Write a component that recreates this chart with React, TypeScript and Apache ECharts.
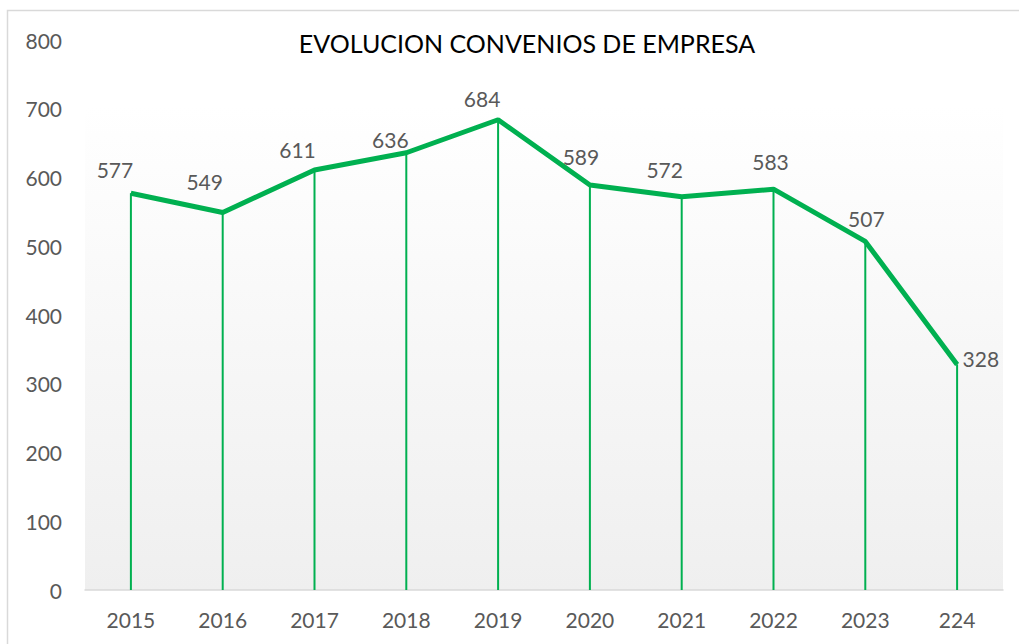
import React, { useEffect, useRef } from "react";
import * as echarts from "echarts";

const categories = ["2015", "2016", "2017", "2018", "2019", "2020", "2021", "2022", "2023", "224"];
const values = [577, 549, 611, 636, 684, 589, 572, 583, 507, 328];
const yTicks = { min: 0, max: 800, interval: 100 };
const title = "EVOLUCION CONVENIOS DE EMPRESA";

// manual nudges of the data labels (pixels), as placed in the original
const labelNudges: [number, number][] = [
  [-16, -13], [-18, -20], [-17, -9], [-16, -2], [-16, -10],
  [-9, -18], [-17, -16], [-3, -17], [1, -12], [0, -6],
];

const GREEN = "#00B050";
const FONT = "Lato, 'Open Sans', sans-serif";

export default function App() {
  const ref = useRef<HTMLDivElement>(null);
  useEffect(() => {
    document.body.style.margin = "0";
    const chart = echarts.init(ref.current!, null, { renderer: "svg" });
    const last = values.length - 1;
    chart.setOption({
      animation: false,
      backgroundColor: "#ffffff",
      title: {
        text: title,
        left: 522,
        textAlign: "center",
        top: 25,
        textStyle: { fontFamily: FONT, fontSize: 25, fontWeight: "normal", color: "#000000" },
      },
      graphic: [
        {
          type: "rect",
          shape: { x: 7.5, y: 10.5, width: 1040, height: 660 },
          style: { fill: "none", stroke: "#d9d9d9", lineWidth: 1.5 },
          silent: true,
          z: 100,
        },
      ],
      grid: {
        left: 85,
        right: 16,
        top: 40,
        bottom: 54,
        show: true,
        borderWidth: 0,
        backgroundColor: new echarts.graphic.LinearGradient(0, 0, 0, 1, [
          { offset: 0, color: "#ffffff" },
          { offset: 0.12, color: "#ffffff" },
          { offset: 1, color: "#efefef" },
        ]),
      },
      xAxis: {
        type: "category",
        data: categories,
        boundaryGap: true,
        axisLine: { show: true, lineStyle: { color: "#d9d9d9", width: 1.5 } },
        axisTick: { show: false },
        axisLabel: { fontFamily: FONT, fontSize: 21, color: "#595959", margin: 19 },
      },
      yAxis: {
        type: "value",
        min: yTicks.min,
        max: yTicks.max,
        interval: yTicks.interval,
        axisLine: { show: false },
        axisTick: { show: false },
        splitLine: { show: false },
        splitArea: { show: false },
        axisLabel: { fontFamily: FONT, fontSize: 21, color: "#595959", margin: 23 },
      },
      series: [
        {
          type: "bar",
          data: values,
          barWidth: 2,
          itemStyle: { color: GREEN },
          z: 2,
          silent: true,
        },
        {
          type: "line",
          data: values.map((v, i) => ({
            value: v,
            label:
              i === last
                ? { position: "right", distance: 5, offset: labelNudges[i] }
                : { position: "top", distance: 0, offset: labelNudges[i] },
          })),
          lineStyle: { color: GREEN, width: 5 },
          itemStyle: { color: GREEN },
          symbol: "circle",
          symbolSize: 1,
          showSymbol: true,
          z: 3,
          label: {
            show: true,
            fontFamily: FONT,
            fontSize: 21,
            color: "#595959",
          },
        },
      ],
    });
    return () => chart.dispose();
  }, []);
  return (
    <div
      ref={ref}
      style={{
        width: 1019,
        height: 644,
        background: "#fff",
      }}
    >
      <style>{`body{margin:0}`}</style>
    </div>
  );
}
